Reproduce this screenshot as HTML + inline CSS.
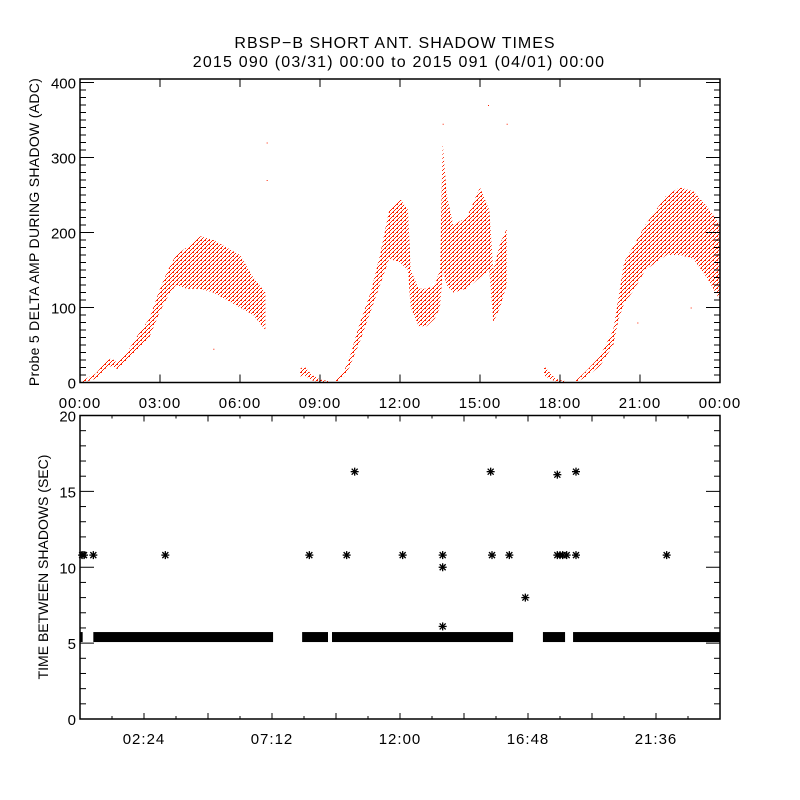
<!DOCTYPE html>
<html><head><meta charset="utf-8"><style>
html,body{margin:0;padding:0;background:#fff;}
svg{display:block;font-family:"Liberation Sans",sans-serif;}
</style></head><body>
<svg id="chart" width="800" height="800" viewBox="0 0 800 800">
<defs>
<pattern id="dots" width="4" height="4" patternUnits="userSpaceOnUse">
<rect x="0" y="0" width="2" height="1" fill="#ff2200"/><rect x="2" y="2" width="1" height="1" fill="#ff2200"/><rect x="3" y="1" width="1" height="1" fill="#ff2200"/><rect x="1" y="3" width="1" height="1" fill="#ff2200"/>
</pattern>
</defs>
<rect width="800" height="800" fill="#fff"/>
<text x="395" y="48" font-size="16" letter-spacing="1" text-anchor="middle">RBSP−B SHORT ANT. SHADOW TIMES</text>
<text x="399" y="67" font-size="16" letter-spacing="1.2" text-anchor="middle">2015 090 (03/31) 00:00 to 2015 091 (04/01) 00:00</text>
<g id="topPanel"></g>
<g id="botPanel"></g>
<text transform="translate(39,232) rotate(-90)" font-size="14" letter-spacing="0.3" text-anchor="middle">Probe 5 DELTA AMP DURING SHADOW (ADC)</text>
<text transform="translate(48,567) rotate(-90)" font-size="14" text-anchor="middle">TIME BETWEEN SHADOWS (SEC)</text>
</svg>
<script>
// ---- top panel data: envelope segments (hour, low, high) ----
const seg1Hours=[0.1,0.6,1.0,1.2,1.4,1.8,2.2,2.6,3.0,3.3,3.6,4.0,4.5,5.0,5.5,6.0,6.5,6.95];
const seg1Low=[0,5,20,22,18,30,45,60,95,115,130,125,125,120,110,100,90,70];
const seg1High=[3,12,30,32,26,42,65,85,125,150,170,180,195,190,180,170,140,120];
const seg2Hours=[8.25,8.4,8.7,9.0,9.3];
const seg2Low=[8,10,3,0,0];
const seg2High=[18,22,10,4,2];
const seg3Hours=[9.6,9.9,10.1,10.5,10.9,11.25,11.6,12.0,12.3,12.4,12.7,13.0,13.3,13.5,13.6,13.75,14.0,14.5,15.0,15.35,15.5,15.75,16.0];
const seg3Low=[0,8,20,55,95,130,165,160,150,100,75,75,85,100,150,130,120,125,140,150,80,100,130];
const seg3High=[5,15,32,80,120,170,230,245,230,150,125,125,130,150,320,250,210,220,260,230,150,185,205];
const seg4Hours=[17.4,17.6,17.8,18.0,18.2];
const seg4Low=[10,5,2,0,0];
const seg4High=[22,14,6,3,2];
const seg5Hours=[18.6,19.0,19.5,20.0,20.2,20.4,20.8,21.2,21.6,22.0,22.5,23.0,23.5,24.0];
const seg5Low=[0,8,22,50,85,105,125,150,160,170,170,165,140,110];
const seg5High=[3,16,35,70,115,160,185,210,230,250,260,255,235,210];
const outlierHours=[7.0,7.0,13.6,15.3,16.0,20.9,22.9,5.0];
const outlierVals=[320,270,345,370,345,80,100,45];
const topXTicks=["00:00","03:00","06:00","09:00","12:00","15:00","18:00","21:00","00:00"];
const topYTicks=[0,100,200,300,400];
// ---- bottom panel data ----
const bandStart=[0,0.5,8.33,9.45,17.36,18.49];
const bandEnd=[0.1,7.24,9.3,16.24,18.19,24];
const bandValue=5.4;
const starHours=[0.08,0.15,0.5,3.2,8.6,10.0,12.1,13.6,15.45,16.1,17.9,18.0,18.1,18.25,18.6,22.0,10.3,15.4,17.9,18.6,13.6,13.6,16.7];
const starVals=[10.8,10.8,10.8,10.8,10.8,10.8,10.8,10.8,10.8,10.8,10.8,10.8,10.8,10.8,10.8,10.8,16.3,16.3,16.1,16.3,10.0,6.1,8.0];
const botXTicks=["02:24","07:12","12:00","16:48","21:36"];
const botYTicks=[0,5,10,15,20];

const NS="http://www.w3.org/2000/svg";
function mk(tag,attrs,parent){const e=document.createElementNS(NS,tag);for(const k in attrs)e.setAttribute(k,attrs[k]);parent.appendChild(e);return e;}
const X0=80,X1=720;
const xs=h=>X0+h/24*(X1-X0);
const TT=79,TB=382.5;
const ty=v=>TB-v*0.75;
const topG=document.getElementById('topPanel');
function band(hours,low,high,name){
  let pts=[];
  for(let i=0;i<hours.length;i++)pts.push(xs(hours[i]).toFixed(1)+","+ty(high[i]).toFixed(1));
  for(let i=hours.length-1;i>=0;i--)pts.push(xs(hours[i]).toFixed(1)+","+ty(low[i]).toFixed(1));
  const p=mk('polygon',{points:pts.join(' '),fill:'url(#dots)'},topG);
  
  
}
band(seg1Hours,seg1Low,seg1High,'shadow-amp-pass-1');
band(seg2Hours,seg2Low,seg2High,'shadow-amp-pass-2');
band(seg3Hours,seg3Low,seg3High,'shadow-amp-pass-3');
band(seg4Hours,seg4Low,seg4High,'shadow-amp-pass-4');
band(seg5Hours,seg5Low,seg5High,'shadow-amp-pass-5');
for(let i=0;i<outlierHours.length;i++){
  const r=mk('rect',{x:xs(outlierHours[i]),y:ty(outlierVals[i]),width:1,height:1,fill:'#ff2200'},topG);
  
  
}
const tf=mk('rect',{x:X0,y:TT,width:X1-X0,height:TB-TT,fill:'none',stroke:'#000','stroke-width':1.5},topG);


topXTicks.forEach((t,i)=>{
  const x=X0+i*(X1-X0)/8;
  mk('line',{x1:x,x2:x,y1:TB,y2:TB-8,stroke:'#000'},topG);
  mk('line',{x1:x,x2:x,y1:TT,y2:TT+8,stroke:'#000'},topG);
  const tx=mk('text',{x:x,y:408,'font-size':15,'letter-spacing':1,'text-anchor':'middle'},topG);
  tx.textContent=t;
  
  
});
for(let v=0;v<=400;v+=10){
  const L=(v%100===0)?14:6;
  mk('line',{x1:X0,x2:X0+L,y1:ty(v),y2:ty(v),stroke:'#000'},topG);
  mk('line',{x1:X1,x2:X1-L,y1:ty(v),y2:ty(v),stroke:'#000'},topG);
}
topYTicks.forEach(v=>{
  const tx=mk('text',{x:76,y:ty(v)+6,'font-size':15,'text-anchor':'end'},topG);
  tx.textContent=v;
  
  
});
const BT=415.5,BB=719;
const by=v=>BB-v*(BB-BT)/20;
const botG=document.getElementById('botPanel');
for(let i=0;i<bandStart.length;i++){
  const r=mk('rect',{x:xs(bandStart[i]),y:by(bandValue)-5,width:Math.max(2,xs(bandEnd[i])-xs(bandStart[i])),height:10,fill:'#000'},botG);
  
  
}
for(let i=0;i<starHours.length;i++){
  const cx=xs(starHours[i]),cy=by(starVals[i]);
  const g=mk('g',{stroke:'#000','stroke-width':1.3},botG);
  
  
  mk('line',{x1:cx-4,x2:cx+4,y1:cy,y2:cy},g);
  mk('line',{x1:cx,x2:cx,y1:cy-4,y2:cy+4},g);
  mk('line',{x1:cx-3,x2:cx+3,y1:cy-3,y2:cy+3},g);
  mk('line',{x1:cx-3,x2:cx+3,y1:cy+3,y2:cy-3},g);
}
const bf=mk('rect',{x:X0,y:BT,width:X1-X0,height:BB-BT,fill:'none',stroke:'#000','stroke-width':1.5},botG);


for(let i=1;i<20;i++){
  const x=X0+i*(X1-X0)/20;const L=(i%2===0)?6:3;
  mk('line',{x1:x,x2:x,y1:BB,y2:BB-L,stroke:'#000'},botG);
  mk('line',{x1:x,x2:x,y1:BT,y2:BT+L,stroke:'#000'},botG);
}
botXTicks.forEach((t,i)=>{
  const tx=mk('text',{x:X0+(i*2+1)*(X1-X0)/10,y:744,'font-size':15,'letter-spacing':1,'text-anchor':'middle'},botG);
  tx.textContent=t;
  
  
});
for(let v=0;v<=20;v++){
  const L=(v%5===0)?14:6;
  mk('line',{x1:X0,x2:X0+L,y1:by(v),y2:by(v),stroke:'#000'},botG);
  mk('line',{x1:X1,x2:X1-L,y1:by(v),y2:by(v),stroke:'#000'},botG);
}
botYTicks.forEach(v=>{
  const tx=mk('text',{x:76,y:by(v)+6,'font-size':15,'text-anchor':'end'},botG);
  tx.textContent=v;
  
  
});
</script>
</body></html>
